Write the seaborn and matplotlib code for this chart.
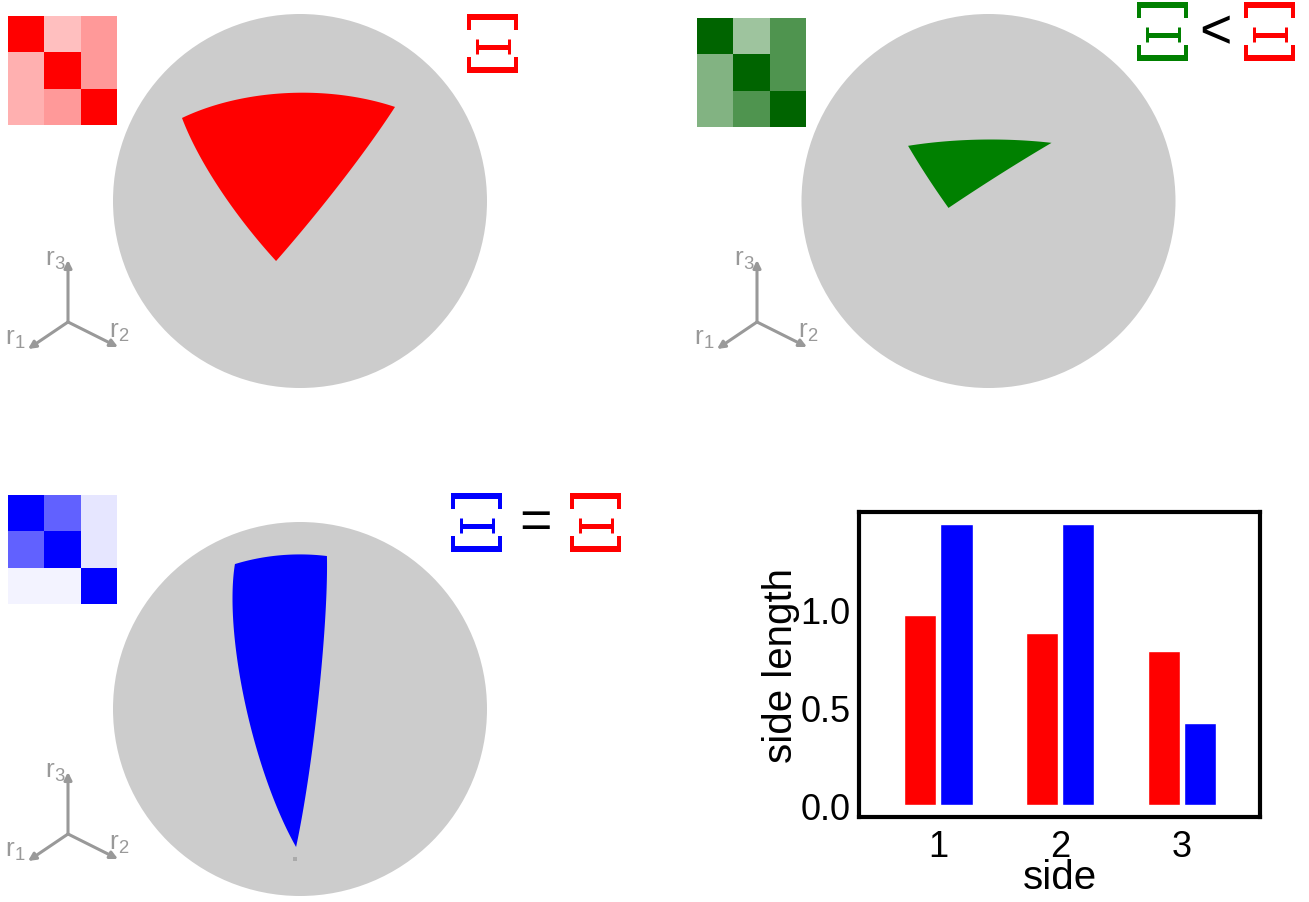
import numpy as np
import pandas as pd
import matplotlib
matplotlib.use("Agg")
import matplotlib.pyplot as plt
from matplotlib.colors import LinearSegmentedColormap
from matplotlib.patches import Circle
import seaborn as sns

sns.set_style("white")
plt.rcParams["font.family"] = ["Liberation Sans", "DejaVu Sans"]
plt.rcParams["mathtext.default"] = "regular"
plt.rcParams["text.color"] = "black"
plt.rcParams["axes.labelcolor"] = "black"
plt.rcParams["xtick.color"] = "black"
plt.rcParams["ytick.color"] = "black"

W, H = 1309, 903

# bar chart data
sides = ["1", "2", "3"]
red_lengths = [0.97, 0.876, 0.786]
blue_lengths = [1.434, 1.434, 0.418]

# the 3x3 matrices (0 = white, 1 = full colour)
red_matrix = [[1.0, 0.25, 0.40], [0.31, 1.0, 0.40], [0.31, 0.40, 1.0]]
green_matrix = [[1.0, 0.38, 0.69], [0.49, 1.0, 0.69], [0.49, 0.69, 1.0]]
blue_matrix = [[1.0, 0.62, 0.10], [0.62, 1.0, 0.10], [0.05, 0.05, 1.0]]

# corners of the spherical triangles, front view of a unit sphere
red_tri_x = [-0.631, 0.508, -0.128]
red_tri_y = [0.444, 0.503, -0.321]
green_tri_x = [-0.43, 0.337, -0.214]
green_tri_y = [0.295, 0.311, -0.037]
blue_tri_x = [-0.348, 0.144, -0.021]
blue_tri_y = [0.775, 0.818, -0.738]

fig = plt.figure(figsize=(W / 100, H / 100), dpi=100)


def px_axes(x, y, w, h, **kw):
    # axes box given in pixels from the top left corner
    return fig.add_axes([x / W, 1 - (y + h) / H, w / W, h / H], **kw)


def sphere_panel(cx, cy, r, tx, ty, color):
    m = 1.03  # a little room so the disc edge is not clipped
    ax = px_axes(cx - r * m, cy - r * m, 2 * r * m, 2 * r * m)
    ax.set_xlim(-m, m)
    ax.set_ylim(-m, m)
    ax.set_aspect("equal")
    ax.axis("off")
    ax.add_patch(Circle((0, 0), 1, fc="#cccccc", ec="none"))
    pts = np.array([[x, y, np.sqrt(max(0.0, 1 - x * x - y * y))] for x, y in zip(tx, ty)])
    edges = []
    t = np.linspace(0, 1, 80)[:, None]
    for i in range(3):
        a, b = pts[i], pts[(i + 1) % 3]
        om = np.arccos(np.clip(a @ b, -1, 1))
        # great circle arc between two corners
        edges.append((np.sin((1 - t) * om) * a + np.sin(t * om) * b) / np.sin(om))
    edges = np.vstack(edges)
    ax.fill(edges[:, 0], edges[:, 1], color=color, lw=0)
    return ax


def small_heatmap(x, y, size, mat, color):
    ax = px_axes(x, y, size, size)
    cmap = LinearSegmentedColormap.from_list("m", ["white", color])
    sns.heatmap(np.array(mat), cmap=cmap, vmin=0, vmax=1, cbar=False,
                xticklabels=False, yticklabels=False, ax=ax)


# sphere panels
sphere_panel(300, 202, 187, red_tri_x, red_tri_y, "#ff0000")
sphere_panel(988.5, 202, 187, green_tri_x, green_tri_y, "#008000")
ax_blue = sphere_panel(300, 710, 187, blue_tri_x, blue_tri_y, "#0000ff")
ax_blue.plot([-0.027], [-0.80], "s", color="#aaaaaa", ms=2.2, mew=0)

# matrices
small_heatmap(8, 17, 109, red_matrix, "#ff0000")
small_heatmap(697, 19, 109, green_matrix, "#006400")
small_heatmap(8, 496, 109, blue_matrix, "#0000ff")

# overlay in pixel units for symbols and little axis triads
ov = fig.add_axes([0, 0, 1, 1], zorder=5)
ov.set_xlim(0, W)
ov.set_ylim(H, 0)
ov.axis("off")
k = 72 / 100


def xi(x0, y0, color, w=51, h=59):
    for yb, yl in [(y0 + 3, y0 + 16), (y0 + h - 3, y0 + h - 16)]:
        ov.plot([x0, x0 + w], [yb, yb], color=color, lw=6 * k, solid_capstyle="butt")
        for xl in (x0 + 2, x0 + w - 2):
            ov.plot([xl, xl], [yb, yl], color=color, lw=4 * k, solid_capstyle="butt")
    ym = y0 + 33
    ov.plot([x0 + 9, x0 + w - 9], [ym, ym], color=color, lw=5 * k, solid_capstyle="butt")
    for xs in (x0 + 9.5, x0 + w - 9.5):
        ov.plot([xs, xs], [ym - 8, ym + 7], color=color, lw=3 * k, solid_capstyle="butt")


def triad(ox, oy):
    for dx, dy in [(-40, 27), (50, 25), (0, -62)]:
        ov.annotate("", xy=(ox + dx, oy + dy), xytext=(ox, oy),
                    arrowprops=dict(arrowstyle="-|>", color="#999999", lw=2.2,
                                    mutation_scale=11, shrinkA=0, shrinkB=0))
    style = dict(color="#999999", fontsize=19, ha="center", va="center")
    ov.text(ox - 53, oy + 16, "r$_1$", **style)
    ov.text(ox + 51, oy + 9, "r$_2$", **style)
    ov.text(ox - 13, oy - 63, "r$_3$", **style)


xi(467, 15, "#ff0000")
xi(1137, 3, "#008000")
ov.text(1215, 34, "<", fontsize=40, ha="center", va="center")
xi(1244, 3, "#ff0000")
xi(451, 494, "#0000ff")
ov.text(535, 524, "=", fontsize=40, ha="center", va="center")
xi(570, 494, "#ff0000")

triad(68, 323)
triad(757, 323)
triad(68, 835)

# bar chart of side lengths
bar_df = pd.DataFrame({
    "side": sides * 2,
    "length": red_lengths + blue_lengths,
    "shape": ["red"] * 3 + ["blue"] * 3,
})
axb = px_axes(859, 513, 401, 305)
sns.barplot(data=bar_df, x="side", y="length", hue="shape",
            palette={"red": "#ff0000", "blue": "#0000ff"}, saturation=1,
            width=0.6, gap=0.12, legend=False, ax=axb)
axb.set_xlim(-0.65, 2.64)
axb.set_ylim(-0.06, 1.495)
axb.set_yticks([0, 0.5, 1.0])
axb.set_yticklabels(["0.0", "0.5", "1.0"])
axb.tick_params(length=0, labelsize=26)
axb.tick_params(axis="x", pad=9)
axb.tick_params(axis="y", pad=6)
for sp in axb.spines.values():
    sp.set_visible(True)
    sp.set_color("black")
    sp.set_linewidth(3)
axb.set_xlabel("side", fontsize=29)
axb.set_ylabel("side length", fontsize=29)
axb.xaxis.set_label_coords(0.5, -0.135)
axb.yaxis.set_label_coords(-0.147, 0.5)

fig.savefig("out.png", dpi=100)
